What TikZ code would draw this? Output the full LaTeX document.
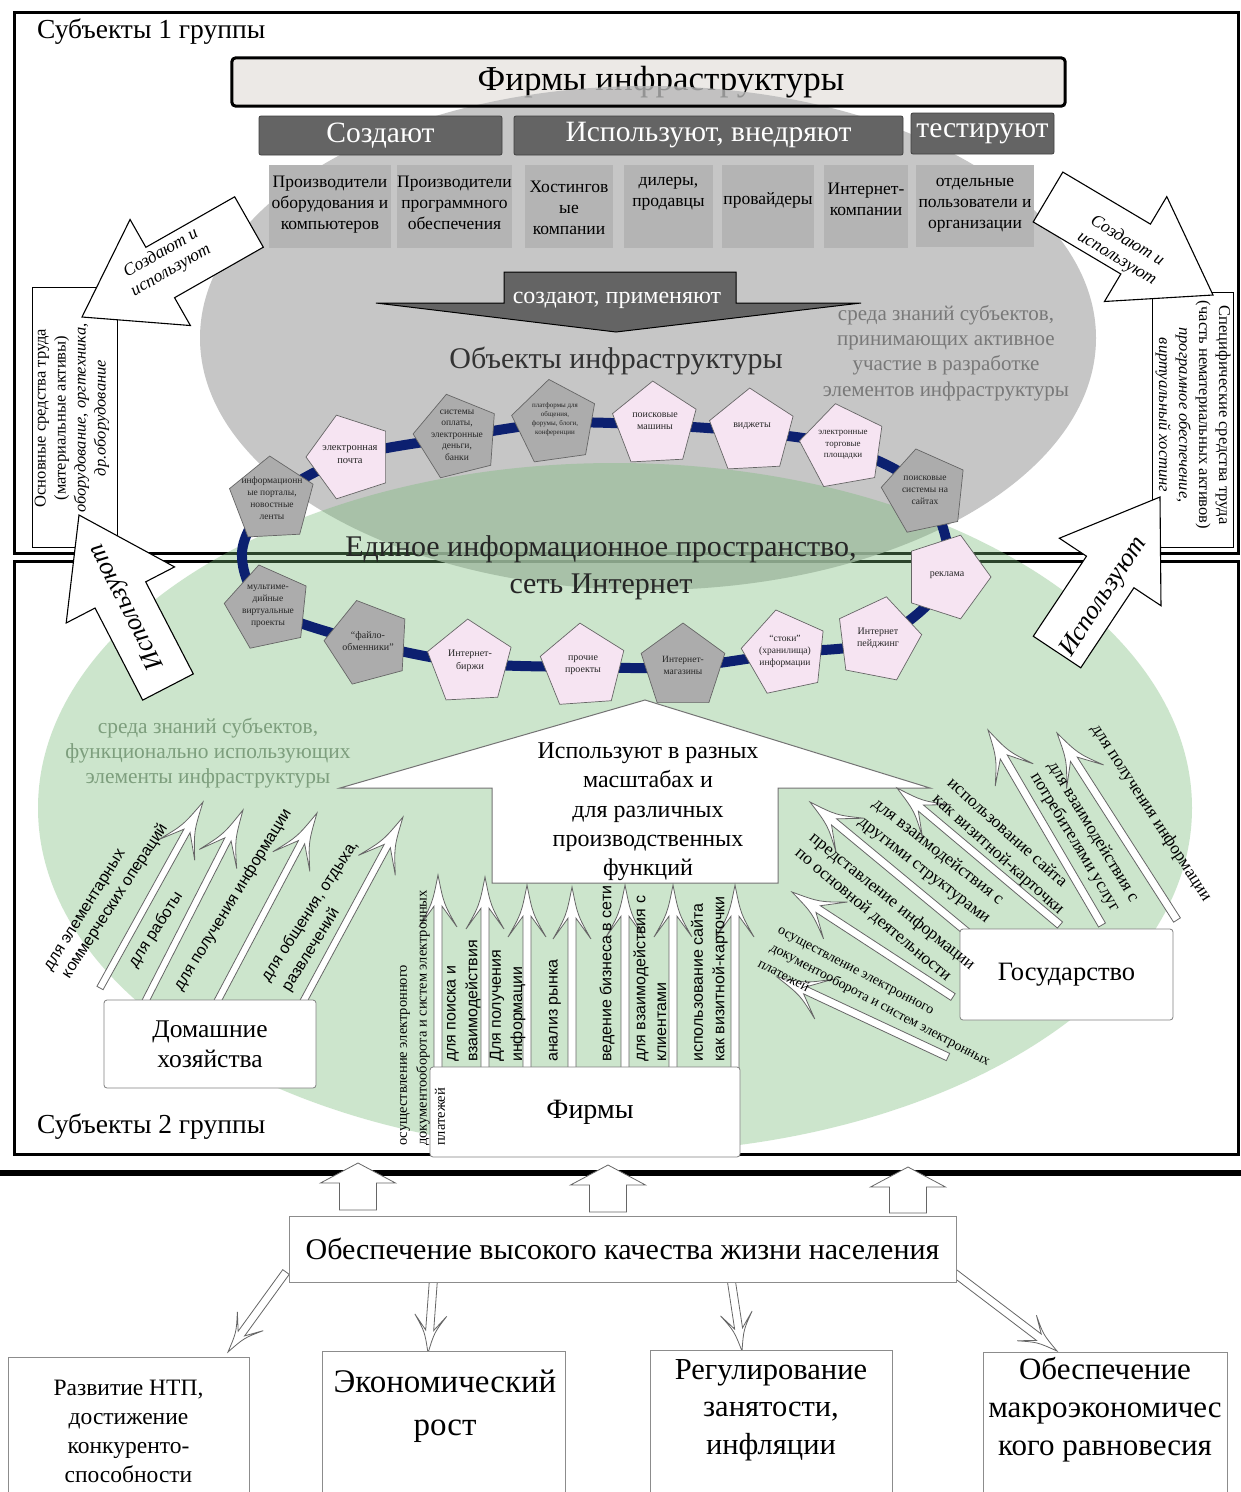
\documentclass[tikz,border=0pt]{standalone}
\usepackage{fontspec}
\setmainfont{Liberation Serif}
\newfontfamily\arialf{Liberation Sans}
\usetikzlibrary{shapes.geometric,calc}
\definecolor{hdrgray}{RGB}{100,100,100}
\definecolor{boxgray}{RGB}{180,180,180}
\definecolor{topbox}{RGB}{236,233,230}
\definecolor{ellgray}{RGB}{184,184,184}
\definecolor{ellgreen}{RGB}{117,185,117}
\definecolor{ringblue}{RGB}{12,32,112}
\definecolor{pinkp}{RGB}{246,228,242}
\definecolor{grayp}{RGB}{172,172,172}
\definecolor{txtgray}{RGB}{120,120,120}
\definecolor{txtgreen}{RGB}{125,158,125}
\newcommand\fsz[2]{\fontsize{#1}{#2}\selectfont}
\newcommand\SArrow[6][]{%
  \path[#1] let \p1=(#2), \p2=(#3), \n1={atan2(\y2-\y1,\x2-\x1)}, \n2={veclen(\x2-\x1,\y2-\y1)} in
  ($(\p1)+(\n1+90:#4)$) -- ($(\p1)+(\n1:\n2-#6)+(\n1+90:#4)$) -- ($(\p1)+(\n1:\n2-#6)+(\n1+90:#5)$) -- (\p2) -- ($(\p1)+(\n1:\n2-#6)+(\n1-90:#5)$) -- ($(\p1)+(\n1:\n2-#6)+(\n1-90:#4)$) -- ($(\p1)+(\n1-90:#4)$) -- cycle;}
\newcommand\BArrow[6][]{%
  \path[#1] let \p1=(#2), \p2=(#3), \n1={atan2(\y2-\y1,\x2-\x1)}, \n2={veclen(\x2-\x1,\y2-\y1)} in
  ($(\p1)+(\n1+90:#4)$) -- ($(\p1)+(\n1:\n2-0.6*#6)+(\n1+90:#4)$) -- ($(\p1)+(\n1:\n2-#6)+(\n1+90:#5)$) .. controls ($(\p1)+(\n1:\n2-0.55*#6)+(\n1+90:0.3*#5)$) .. (\p2) .. controls ($(\p1)+(\n1:\n2-0.55*#6)+(\n1-90:0.3*#5)$) .. ($(\p1)+(\n1:\n2-#6)+(\n1-90:#5)$) -- ($(\p1)+(\n1:\n2-0.6*#6)+(\n1-90:#4)$) -- ($(\p1)+(\n1-90:#4)$) -- cycle;}
\begin{document}
\begin{tikzpicture}[x=1pt,y=-1pt,
  txt/.style={inner sep=0pt, align=center},
  hdr/.style={txt, fill=hdrgray, draw=black!75, line width=0.8pt, rounded corners=2pt, text=white, font=\fsz{29.5}{32}},
  lbox/.style={inner sep=0pt, fill=boxgray},
  btext/.style={txt, font=\fsz{17.5}{21}},
  pent/.style={regular polygon, regular polygon sides=5, minimum size=88pt, inner sep=0pt, draw=black!60, line width=0.7pt},
  ptext/.style={txt, text=black!85},
  wbox/.style={txt, draw=black!50, fill=white, line width=0.8pt, rounded corners=3pt},
  bbox/.style={draw=black!45, fill=white, line width=0.9pt},
  outarr/.style={draw=black!60, fill=white, line width=0.8pt},
  bigarr/.style={draw=black, fill=white, line width=1.1pt},
  lab/.style={inner sep=0pt, font=\arialf\fsz{16}{19}},
  slab/.style={inner sep=0pt, font=\fsz{17.5}{20}},
  sidetxt/.style={txt, font=\fsz{16.5}{20}}]
\useasboundingbox (0,0) rectangle (1241,1492);
\fill[white] (0,0) rectangle (1241,1492);

% title box (under the ellipse)
\node[txt, fill=topbox, minimum width=833pt, minimum height=48pt, rounded corners=4pt] (firms) at (648.5,82) {};
\node[txt, font=\fsz{35}{38}] (firmst) at (661,82) {Фирмы инфраструктуры};

% frames
\draw[line width=3pt] (14,12) rectangle (1238,553);
\draw[line width=3pt] (14,561) rectangle (1238,1154);
\draw[line width=6pt] (0,1173) -- (1241,1173);

% ellipses
\fill[ellgray, fill opacity=0.8] (648,338) ellipse [x radius=448pt, y radius=252pt];
\fill[ellgreen, fill opacity=0.37] (615,808) ellipse [x radius=577pt, y radius=345pt];
\draw[line width=3pt, rounded corners=4pt] (firms.north west) rectangle (firms.south east);

\node[txt, anchor=west, font=\fsz{27.5}{30}] (s1) at (37,32) {Субъекты 1 группы};
\node[txt, anchor=west, font=\fsz{27.5}{30}] (s2) at (37,1127) {Субъекты 2 группы};

% header boxes
\node[hdr, minimum width=243pt, minimum height=39pt] (cr) at (380.5,135.5) {Создают};
\node[hdr, minimum width=389pt, minimum height=39pt] (use) at (708.5,135.5) {Используют, внедряют};
\node[hdr, minimum width=143pt, minimum height=41pt] (test) at (982.5,133.5) {тестируют};

% light boxes
\node[lbox, minimum width=122pt, minimum height=83pt] (b1) at (330,206.5) {};
\node[lbox, minimum width=115pt, minimum height=83pt] (b2) at (454.5,206.5) {};
\node[lbox, minimum width=88pt, minimum height=83pt] (b3) at (569,206.5) {};
\node[lbox, minimum width=89pt, minimum height=83pt] (b4) at (668.5,206.5) {};
\node[lbox, minimum width=92pt, minimum height=83pt] (b5) at (768,206.5) {};
\node[lbox, minimum width=84pt, minimum height=83pt] (b6) at (866,206.5) {};
\node[lbox, minimum width=118pt, minimum height=82pt] (b7) at (975,206) {};
\node[btext] at (330,205) {Производители\\оборудования и\\компьютеров};
\node[btext] at (454.5,203) {Производители\\программного\\обеспечения};
\node[btext] at (569,208) {Хостингов\\ые\\компании};
\node[btext] at (668.5,194) {дилеры,\\продавцы};
\node[btext] at (768,200) {провайдеры};
\node[btext] at (866,199) {Интернет-\\компании};
\node[btext] at (975,205) {отдельные\\пользователи и\\организации};

% side boxes
\draw[fill=white, line width=0.9pt] (32,287) rectangle (117,547);
\node[sidetxt, rotate=90] (lside) at (72,418) {Основные средства труда\\(материальные активы)\\\textit{оборудование, оргтехника,}\\\textit{др.оборудование}};
\draw[fill=white, line width=0.9pt] (1152,292) rectangle (1233,547);
\node[sidetxt, rotate=-90] (rside) at (1193,415) {Специфические средства труда\\(часть нематериальных активов)\\\textit{програмное обеспечение,}\\\textit{виртуальный хостинг}};

% big side arrows
\coordinate (a1s) at (249,222); \coordinate (a1e) at (82,317);
\coordinate (a2s) at (1048,197); \coordinate (a2e) at (1213,295);
\coordinate (a3s) at (168,687); \coordinate (a3e) at (79,515);
\coordinate (a4s) at (1057,652); \coordinate (a4e) at (1160,497);
\SArrow[bigarr]{a1s}{a1e}{29pt}{61pt}{90pt}
\SArrow[bigarr]{a2s}{a2e}{29pt}{61pt}{90pt}
\SArrow[bigarr]{a3s}{a3e}{28.5pt}{61pt}{90pt}
\SArrow[bigarr]{a4s}{a4e}{28.5pt}{61pt}{90pt}
\node[txt, rotate=29.6, font=\itshape\fsz{17.5}{20}] at (166,262) {Создают и\\используют};
\node[txt, rotate=-30.8, font=\itshape\fsz{17.5}{20}] at (1122,250) {Создают и\\используют};
\node[txt, rotate=117, font=\itshape\fsz{26}{28}] at (127,607) {Используют};
\node[txt, rotate=57, font=\itshape\fsz{26}{28}] at (1104,597) {Используют};

% create/apply arrow
\draw[fill=hdrgray, draw=black, line width=1pt] (504,272) -- (736,272) -- (736,303) -- (861,303) -- (616,332) -- (376,303) -- (504,303) -- cycle;
\node[txt, text=white, font=\fsz{24}{26}] (crapp) at (617,300) {создают, применяют};

\node[txt, font=\fsz{30}{32}, text=black!80] (objs) at (616,361) {Объекты инфраструктуры};
\node[txt, font=\fsz{21}{25.3}, text=txtgray] (kn1) at (946,353) {среда знаний субъектов,\\принимающих активное\\участие в разработке\\элементов инфраструктуры};
\node[txt, font=\fsz{30}{37}, text=black!85] (eip) at (601,568) {Единое информационное пространство,\\сеть Интернет};
\node[txt, font=\fsz{21.4}{25.3}, text=txtgreen] (kn2) at (208,753) {среда знаний субъектов,\\функционально использующих\\элементы инфраструктуры};

% ring
\coordinate (c1) at (272,500); \coordinate (c2) at (350,457); \coordinate (c3) at (457,437);
\coordinate (c4) at (555,423); \coordinate (c5) at (655,425); \coordinate (c6) at (752,432);
\coordinate (c7) at (843,447); \coordinate (c8) at (925,492); \coordinate (c9) at (947,577);
\coordinate (c10) at (878,640); \coordinate (c11) at (785,653); \coordinate (c12) at (683,667);
\coordinate (c13) at (583,667); \coordinate (c14) at (470,663); \coordinate (c15) at (368,643);
\coordinate (c16) at (268,608); \coordinate (cL) at (242,553);
\draw[ringblue, line width=10pt] plot[smooth cycle, tension=0.55] coordinates {(c1) (c2) (c3) (c4) (c5) (c6) (c7) (c8) (c9) (c10) (c11) (c12) (c13) (c14) (c15) (c16) (cL)};

\node[pent, fill=grayp, shape border rotate=3] (p1) at (c1) {};
\node[pent, fill=pinkp, shape border rotate=18] (p2) at (c2) {};
\node[pent, fill=grayp, shape border rotate=14] (p3) at (c3) {};
\node[pent, fill=grayp, shape border rotate=8] (p4) at (c4) {};
\node[pent, fill=pinkp, shape border rotate=3] (p5) at (c5) {};
\node[pent, fill=pinkp, shape border rotate=3] (p6) at (c6) {};
\node[pent, fill=pinkp, shape border rotate=10] (p7) at (c7) {};
\node[pent, fill=grayp, shape border rotate=12] (p8) at (c8) {};
\node[pent, fill=pinkp, shape border rotate=-18] (p9) at (c9) {};
\node[pent, fill=pinkp, shape border rotate=-11] (p10) at (c10) {};
\node[pent, fill=pinkp, shape border rotate=12] (p11) at (c11) {};
\node[pent, fill=grayp, shape border rotate=0] (p12) at (c12) {};
\node[pent, fill=pinkp, shape border rotate=4] (p13) at (c13) {};
\node[pent, fill=pinkp, shape border rotate=3] (p14) at (c14) {};
\node[pent, fill=grayp, shape border rotate=15] (p15) at (c15) {};
\node[pent, fill=grayp, shape border rotate=12] (p16) at (c16) {};

\node[ptext, font=\fsz{9.5}{12}] at ($(c1)+(0,-2)$) {информационн\\ые порталы,\\новостные\\ленты};
\node[ptext, font=\fsz{10.5}{13}] at ($(c2)+(0,-2)$) {электронная\\почта};
\node[ptext, font=\fsz{9.5}{11.5}] at ($(c3)+(0,-2)$) {системы\\оплаты,\\электронные\\деньги,\\банки};
\node[ptext, font=\fsz{7}{9}] at ($(c4)+(0,-4)$) {платформы для\\общения,\\форумы, блоги,\\конференции};
\node[ptext, font=\fsz{10}{12.5}] at ($(c5)+(0,-4)$) {поисковые\\машины};
\node[ptext, font=\fsz{10}{12.5}] at ($(c6)+(0,-6)$) {виджеты};
\node[ptext, font=\fsz{9}{11.5}] at ($(c7)+(0,-2)$) {электронные\\торговые\\площадки};
\node[ptext, font=\fsz{9.5}{12}] at ($(c8)+(0,-2)$) {поисковые\\системы на\\сайтах};
\node[ptext, font=\fsz{10}{12.5}] at ($(c9)+(0,-2)$) {реклама};
\node[ptext, font=\fsz{10}{12.5}] at ($(c10)+(0,-2)$) {Интернет\\пейджинг};
\node[ptext, font=\fsz{9.5}{12}] at ($(c11)+(0,-2)$) {“стоки”\\(хранилища)\\информации};
\node[ptext, font=\fsz{9.5}{12}] at ($(c12)+(0,-2)$) {Интернет-\\магазины};
\node[ptext, font=\fsz{10}{12.5}] at ($(c13)+(0,-2)$) {прочие\\проекты};
\node[ptext, font=\fsz{10}{12.5}] at ($(c14)+(0,-2)$) {Интернет-\\биржи};
\node[ptext, font=\fsz{10}{12.5}] at ($(c15)+(0,-2)$) {“файло-\\обменники”};
\node[ptext, font=\fsz{9.5}{12}] at ($(c16)+(0,-2)$) {мультиме-\\дийные\\виртуальные\\проекты};

% big white arrow
\draw[draw=black!55, fill=white, line width=1pt] (492,883) -- (492,788) -- (340,788) -- (645,700) -- (930,788) -- (778,788) -- (778,883) -- cycle;
\node[txt, font=\fsz{24}{29.3}] (bigt) at (648,812) {Используют в разных\\масштабах и\\для различных\\производственных\\функций};

% households arrows
\coordinate (h1s) at (100,988); \coordinate (h1e) at (203,802);
\coordinate (h2s) at (145,1002); \coordinate (h2e) at (243,810);
\coordinate (h3s) at (217,1002); \coordinate (h3e) at (317,813);
\coordinate (h4s) at (303,1002); \coordinate (h4e) at (403,817);
\BArrow[outarr]{h1s}{h1e}{3.5pt}{21pt}{55pt}
\BArrow[outarr]{h2s}{h2e}{3.5pt}{21pt}{55pt}
\BArrow[outarr]{h3s}{h3e}{3.5pt}{21pt}{55pt}
\BArrow[outarr]{h4s}{h4e}{3.5pt}{21pt}{55pt}

% firms arrows
\coordinate (f1s) at (438,1070); \coordinate (f1e) at (438,875);
\coordinate (f2s) at (485,1070); \coordinate (f2e) at (485,877);
\coordinate (f3s) at (527,1070); \coordinate (f3e) at (527,885);
\coordinate (f4s) at (572,1070); \coordinate (f4e) at (572,887);
\coordinate (f5s) at (625,1070); \coordinate (f5e) at (625,885);
\coordinate (f6s) at (673,1070); \coordinate (f6e) at (673,885);
\coordinate (f7s) at (735,1070); \coordinate (f7e) at (735,885);
\foreach \i in {1,...,7} {\BArrow[outarr]{f\i s}{f\i e}{4pt}{19pt}{52pt}}

% state arrows
\coordinate (g1s) at (948,1057); \coordinate (g1e) at (777,977);
\coordinate (g2s) at (953,997); \coordinate (g2e) at (792,892);
\coordinate (g3s) at (967,932); \coordinate (g3e) at (810,802);
\coordinate (g4s) at (1060,925); \coordinate (g4e) at (897,788);
\coordinate (g5s) at (1102,925); \coordinate (g5e) at (988,730);
\coordinate (g6s) at (1177,920); \coordinate (g6e) at (1057,733);
\foreach \i in {1,...,6} {\BArrow[outarr]{g\i s}{g\i e}{4pt}{22pt}{52pt}}

% boxes
\node[wbox, minimum width=212pt, minimum height=88pt, font=\fsz{25.5}{30}] (hh) at (210,1044) {Домашние\\хозяйства};
\node[wbox, minimum width=310pt, minimum height=90pt] (firm) at (585,1112) {};
\node[txt, font=\fsz{28}{30}] (firmt) at (590,1112) {Фирмы};
\node[wbox, minimum width=213pt, minimum height=91pt, font=\fsz{26.5}{30}] (gov) at (1066.5,974.5) {Государство};

% households labels
\node[lab, rotate=58] at (86,911) {для элементарных};
\node[lab, rotate=57] at (115,901) {коммерческих операций};
\node[lab, rotate=57] at (156,930) {для работы};
\node[lab, rotate=58.5] at (233,900) {для получения информации};
\node[lab, rotate=57] at (310,911) {для общения, отдыха,};
\node[lab, rotate=58] at (311,950) {развлечений};

% firm labels
\node[inner sep=0pt, font=\fsz{14.5}{16}, rotate=90, anchor=west] at (405,1146) {осуществление электронного};
\node[inner sep=0pt, font=\fsz{14.5}{16}, rotate=90, anchor=west] at (423,1146) {документооборота и систем электронных};
\node[inner sep=0pt, font=\fsz{14.5}{16}, rotate=90, anchor=west] at (440,1146) {платежей};
\node[lab, rotate=90, anchor=west] at (453,1062) {для поиска и};
\node[lab, rotate=90, anchor=west] at (473,1062) {взаимодействия};
\node[lab, rotate=90, anchor=west] at (497,1062) {Для получения};
\node[lab, rotate=90, anchor=west] at (518,1062) {информации};
\node[lab, rotate=90, anchor=west] at (555,1062) {анализ рынка};
\node[lab, rotate=90, anchor=west] at (607,1062) {ведение бизнеса в сети};
\node[lab, rotate=90, anchor=west] at (641,1062) {для взаимодействия с};
\node[lab, rotate=90, anchor=west] at (662,1062) {клиентами};
\node[lab, rotate=90, anchor=west] at (697,1062) {использование сайта};
\node[lab, rotate=90, anchor=west] at (720,1062) {как визитной-карточки};

% state labels
\node[inner sep=0pt, font=\fsz{14}{16}, rotate=-28] at (855,972) {осуществление электронного};
\node[inner sep=0pt, font=\fsz{14}{16}, rotate=-28] at (880,1005) {документооборота и систем электронных};
\node[inner sep=0pt, font=\fsz{14}{16}, rotate=-28] at (784,975) {платежей};
\node[slab, rotate=-39] at (892,902) {представление информации};
\node[slab, rotate=-40] at (873,915) {по основной деятельности};
\node[slab, rotate=-38] at (938,852) {для взаимодействия с};
\node[slab, rotate=-38] at (923,872) {другими структурами};
\node[slab, rotate=-42] at (1008,832) {использование сайта};
\node[slab, rotate=-42] at (998,855) {как визитной-карточки};
\node[slab, rotate=-59] at (1093,832) {для взаимодействия с};
\node[slab, rotate=-59] at (1075,842) {потребителями услуг};
\node[slab, rotate=-57] at (1151,813) {для получения информации};

% bottom part
\coordinate (u1s) at (358,1210); \coordinate (u1e) at (358,1163);
\coordinate (u2s) at (608,1212); \coordinate (u2e) at (608,1165);
\coordinate (u3s) at (908,1213); \coordinate (u3e) at (908,1167);
\SArrow[outarr]{u1s}{u1e}{18.5pt}{37.5pt}{20pt}
\SArrow[outarr]{u2s}{u2e}{18.5pt}{37.5pt}{20pt}
\SArrow[outarr]{u3s}{u3e}{18.5pt}{37.5pt}{20pt}

\coordinate (d1s) at (286,1272); \coordinate (d1e) at (228,1352);
\coordinate (d2s) at (434,1272); \coordinate (d2e) at (428,1353);
\coordinate (d3s) at (730,1272); \coordinate (d3e) at (742,1351);
\coordinate (d4s) at (953,1272); \coordinate (d4e) at (1057,1351);
\foreach \i in {1,...,4} {\BArrow[outarr]{d\i s}{d\i e}{4pt}{16pt}{38pt}}

\node[txt, draw=black!45, fill=white, line width=0.9pt, minimum width=667pt, minimum height=66pt, font=\fsz{30}{32}] (qol) at (622.5,1249) {Обеспечение высокого качества жизни населения};

\draw[bbox] (8,1357) rectangle (249,1500);
\draw[bbox] (322,1351) rectangle (565,1500);
\draw[bbox] (650,1350) rectangle (892,1500);
\draw[bbox] (983,1352) rectangle (1227,1500);
\node[txt, font=\fsz{23.5}{29}] (g1) at (128.5,1431) {Развитие НТП,\\достижение\\конкуренто-\\способности};
\node[txt, font=\fsz{33}{43}] (g2) at (445,1406) {Экономический\\рост};
\node[txt, font=\fsz{30.5}{37.5}] (g3) at (771,1410) {Регулирование\\занятости,\\инфляции};
\node[txt, font=\fsz{31}{38}] (g4) at (1105,1410) {Обеспечение\\макроэкономичес\\кого равновесия};
\end{tikzpicture}
\end{document}
